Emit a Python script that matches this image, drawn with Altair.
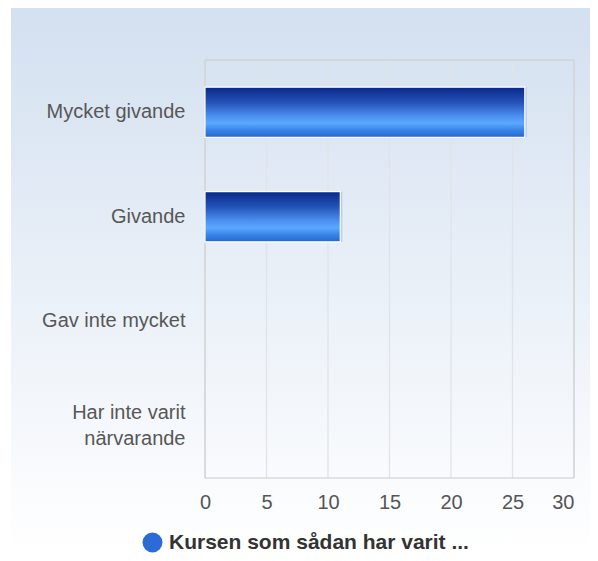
import altair as alt
import pandas as pd

categories = ["Mycket givande", "Givande", "Gav inte mycket", "Har inte varit närvarande"]
values = [26, 11, 0, 0]
series_name = "Kursen som sådan har varit ..."
x_ticks = [0, 5, 10, 15, 20, 25, 30]
label_lines = {"Har inte varit närvarande": ["Har inte varit", "närvarande"]}

FONT = "Liberation Sans, Arial, Helvetica, sans-serif"
W, H = 369, 418
PAD = {"left": 197, "top": 52, "right": 16, "bottom": 75}

df = pd.DataFrame({"category": categories, "value": values, "series": series_name})
grid_df = pd.DataFrame({"tick": x_ticks})

label_expr = "datum.label"
offset_expr = "0"
for k, v in label_lines.items():
    arr = "[" + ", ".join("'" + s + "'" for s in v) + "]"
    label_expr = f"datum.label == '{k}' ? {arr} : " + label_expr
    offset_expr = f"datum.value == '{k}' ? {-(len(v) - 1) * 12.5} : " + offset_expr

x_scale = alt.Scale(domain=[0, 30], nice=False, zero=True)
y_scale = alt.Scale(domain=categories, paddingInner=0.52, paddingOuter=0.26)

x_axis = alt.Axis(values=x_ticks, title=None, grid=False, ticks=False, domain=False,
                  labelFont=FONT, labelFontSize=20, labelColor="#555555",
                  labelPadding=14, zindex=1,
                  labelAlign=alt.ExprRef("datum.value >= 30 ? 'right' : 'center'"))

bg = alt.Chart(pd.DataFrame({"a": [0]})).mark_rect(
    fill=alt.Gradient(
        gradient="linear", x1=0, x2=0, y1=0, y2=1,
        stops=[alt.GradientStop(color="#d3e0f0", offset=0),
               alt.GradientStop(color="#ffffff", offset=1)],
    )
).encode(
    x=alt.value(-PAD["left"] + 3), x2=alt.value(W + PAD["right"]),
    y=alt.value(-PAD["top"] - 1), y2=alt.value(H + PAD["bottom"]),
)

grid = alt.Chart(grid_df).mark_rule(color="#e1e3e8", strokeWidth=1.3).encode(
    x=alt.X("tick:Q", scale=x_scale, axis=x_axis)
)

frame = alt.Chart(pd.DataFrame({"a": [0]})).mark_rect(
    fill="transparent", stroke="#cacaca", strokeWidth=1
).encode(x=alt.value(0), x2=alt.value(W), y=alt.value(0), y2=alt.value(H))

shadow = alt.Chart(df).transform_filter("datum.value > 0").mark_bar(
    fill="#b9cbef", xOffset=2
).encode(
    x=alt.X("value:Q", scale=x_scale, axis=x_axis),
    y=alt.Y("category:N", scale=y_scale, sort=categories),
)

bars = alt.Chart(df).mark_bar(
    stroke="white", strokeWidth=1.2,
    fill=alt.Gradient(
        gradient="linear", x1=0, x2=0, y1=0, y2=1,
        stops=[alt.GradientStop(color="#08278a", offset=0),
               alt.GradientStop(color="#2452b6", offset=0.3),
               alt.GradientStop(color="#4c8ff0", offset=0.58),
               alt.GradientStop(color="#5ba8ff", offset=0.72),
               alt.GradientStop(color="#3a86e8", offset=0.85),
               alt.GradientStop(color="#2468cc", offset=1)],
    ),
).encode(
    x=alt.X("value:Q", scale=x_scale, axis=x_axis),
    y=alt.Y("category:N", scale=y_scale, sort=categories,
            axis=alt.Axis(title=None, ticks=False, domain=False, grid=False,
                          labelFont=FONT, labelFontSize=20, labelColor="#575757",
                          labelPadding=20, labelLineHeight=26, labelLimit=300,
                          labelExpr=label_expr, labelOffset=alt.ExprRef(offset_expr),
                          zindex=1)),
    strokeOpacity=alt.condition("datum.value > 0", alt.value(1), alt.value(0)),
)

legend_layer = alt.Chart(df).transform_filter("false").mark_point(
    filled=True, shape="circle"
).encode(
    color=alt.Color("series:N",
                    scale=alt.Scale(domain=[series_name], range=["#2c6ad6"]),
                    legend=alt.Legend(title=None, orient="none", legendX=-63, legendY=472,
                                      direction="horizontal", symbolType="circle",
                                      symbolSize=400, symbolStrokeWidth=0, symbolOpacity=1,
                                      labelFont=FONT, labelFontSize=21, labelFontWeight="bold",
                                      labelColor="#333333", labelOffset=6, padding=0,
                                      labelLimit=400))
)

chart = alt.layer(bg, grid, frame, shadow, bars, legend_layer).properties(
    width=W, height=H, padding=PAD, autosize="none", background="white"
).configure_view(stroke=None)

chart.save("out.html", embed_options={"renderer": "svg", "actions": False})
